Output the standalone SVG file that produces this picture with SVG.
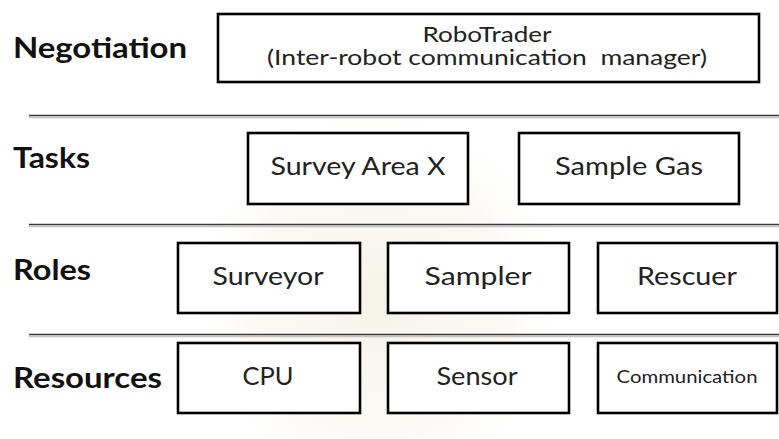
<svg xmlns="http://www.w3.org/2000/svg" width="779" height="439" viewBox="0 0 779 439">
  <defs>
    <radialGradient id="seal" cx="0.5" cy="0.5" r="0.5">
      <stop offset="0" stop-color="#efe9d8" stop-opacity="0.55"/>
      <stop offset="0.7" stop-color="#f3efe3" stop-opacity="0.35"/>
      <stop offset="1" stop-color="#ffffff" stop-opacity="0"/>
    </radialGradient>
  </defs>
  <style>
    .layer { font-family: Lato, "Liberation Sans", sans-serif; font-weight: 700; font-size: 29px; fill: #111; }
    .box rect { fill: #fff; stroke: #000; stroke-width: 2.6; }
    .box text { font-family: Lato, "Liberation Sans", sans-serif; font-size: 25px; fill: #222; text-anchor: middle; }
    .box text.small { font-size: 18px; }
    .box text.head { font-size: 21px; }
    .rule { stroke: #3a3a3a; stroke-width: 1.6; }
    .rule-shadow { stroke: #c4c4c4; stroke-width: 1.4; }
  </style>

  <rect width="779" height="439" fill="#fff"/>
  <!-- faint background seal -->
  <ellipse cx="378" cy="300" rx="190" ry="200" fill="url(#seal)"/>

  <!-- layer separators -->
  <g id="connectors">
    <line class="rule-shadow" x1="29" y1="117.5" x2="779" y2="117.5"/>
    <line class="rule" x1="29" y1="115.5" x2="779" y2="115.5"/>
    <line class="rule-shadow" x1="29" y1="226.5" x2="779" y2="226.5"/>
    <line class="rule" x1="29" y1="224.5" x2="779" y2="224.5"/>
    <line class="rule-shadow" x1="29" y1="336.5" x2="779" y2="336.5"/>
    <line class="rule" x1="29" y1="334.5" x2="779" y2="334.5"/>
  </g>

  <!-- layer labels -->
  <g id="labels">
    <text class="layer" x="13" y="58" textLength="174" lengthAdjust="spacingAndGlyphs">Negotiation</text>
    <text class="layer" x="13" y="168" textLength="77" lengthAdjust="spacingAndGlyphs">Tasks</text>
    <text class="layer" x="13" y="280" textLength="78" lengthAdjust="spacingAndGlyphs">Roles</text>
    <text class="layer" x="13" y="388" textLength="149" lengthAdjust="spacingAndGlyphs">Resources</text>
  </g>

  <!-- negotiation layer -->
  <g id="robotrader" class="box">
    <rect x="218" y="14" width="541" height="68"/>
    <text class="head" x="487" y="42" textLength="129" lengthAdjust="spacingAndGlyphs">RoboTrader</text>
    <text class="head" x="487" y="65" textLength="440" lengthAdjust="spacingAndGlyphs" xml:space="preserve">(Inter-robot communication  manager)</text>
  </g>

  <!-- task layer -->
  <g id="survey-area-x" class="box">
    <rect x="248" y="133" width="220" height="71"/>
    <text x="358" y="175" textLength="175" lengthAdjust="spacingAndGlyphs">Survey Area X</text>
  </g>
  <g id="sample-gas" class="box">
    <rect x="519" y="133" width="220" height="71"/>
    <text x="629" y="175" textLength="148" lengthAdjust="spacingAndGlyphs">Sample Gas</text>
  </g>

  <!-- role layer -->
  <g id="surveyor" class="box">
    <rect x="178" y="243" width="182" height="70"/>
    <text x="268" y="285" textLength="111" lengthAdjust="spacingAndGlyphs">Surveyor</text>
  </g>
  <g id="sampler" class="box">
    <rect x="388" y="243" width="181" height="70"/>
    <text x="478" y="285" textLength="107" lengthAdjust="spacingAndGlyphs">Sampler</text>
  </g>
  <g id="rescuer" class="box">
    <rect x="598" y="243" width="179" height="70"/>
    <text x="687" y="285" textLength="100" lengthAdjust="spacingAndGlyphs">Rescuer</text>
  </g>

  <!-- resource layer -->
  <g id="cpu" class="box">
    <rect x="178" y="343" width="182" height="70"/>
    <text x="268" y="385" textLength="51" lengthAdjust="spacingAndGlyphs">CPU</text>
  </g>
  <g id="sensor" class="box">
    <rect x="388" y="343" width="181" height="70"/>
    <text x="477" y="385" textLength="81" lengthAdjust="spacingAndGlyphs">Sensor</text>
  </g>
  <g id="communication" class="box">
    <rect x="598" y="343" width="179" height="70"/>
    <text class="small" x="687" y="383" textLength="141" lengthAdjust="spacingAndGlyphs">Communication</text>
  </g>
</svg>
